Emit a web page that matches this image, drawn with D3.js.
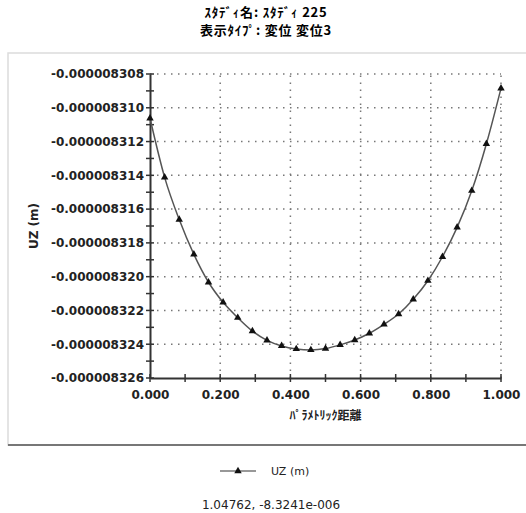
<!DOCTYPE html>
<html>
<head>
<meta charset="utf-8">
<script src="https://cdn.jsdelivr.net/npm/d3@7"></script>
<style>
  body { margin: 0; background: #fff; }
  svg { display: block; }
</style>
</head>
<body>
<svg id="chart" width="526" height="513"></svg>
<script>
var titleLines = ["ｽﾀﾃﾞｨ名: ｽﾀﾃﾞｨ 225", "表示ﾀｲﾌﾟ: 変位 変位3"];
var xLabel = "ﾊﾟﾗﾒﾄﾘｯｸ距離";
var yLabel = "UZ (m)";
var seriesName = "UZ (m)";
var readout = "1.04762, -8.3241e-006";

// parametric distance of each node
var distance = [0, 0.0417, 0.0833, 0.125, 0.1667, 0.2083, 0.25, 0.2917, 0.3333,
  0.375, 0.4167, 0.4583, 0.5, 0.5417, 0.5833, 0.625, 0.6667, 0.7083, 0.75,
  0.7917, 0.8333, 0.875, 0.9167, 0.9583, 1.0];
// UZ displacement (m)
var uz = [-8.31062e-6, -8.31412e-6, -8.31662e-6, -8.31868e-6, -8.32033e-6,
  -8.32152e-6, -8.32243e-6, -8.32322e-6, -8.32377e-6, -8.32410e-6,
  -8.32428e-6, -8.32434e-6, -8.32426e-6, -8.32404e-6, -8.32375e-6,
  -8.32335e-6, -8.32282e-6, -8.32221e-6, -8.32134e-6, -8.32024e-6,
  -8.31882e-6, -8.31708e-6, -8.31491e-6, -8.31214e-6, -8.30885e-6];

var xTicks = [0, 0.2, 0.4, 0.6, 0.8, 1.0];
var xMinor = [0.1, 0.3, 0.5, 0.7, 0.9];
var yTicks = [-8.308e-6, -8.310e-6, -8.312e-6, -8.314e-6, -8.316e-6,
  -8.318e-6, -8.320e-6, -8.322e-6, -8.324e-6, -8.326e-6];
var yMinor = [-8.309e-6, -8.311e-6, -8.313e-6, -8.315e-6, -8.317e-6,
  -8.319e-6, -8.321e-6, -8.323e-6, -8.325e-6];

var svg = d3.select("#chart");
var font = "'DejaVu Sans', sans-serif";

var x = d3.scaleLinear().domain([0, 1]).range([150, 501]);
var y = d3.scaleLinear().domain([-8.326e-6, -8.308e-6]).range([378, 74]);

// title
svg.selectAll(".title")
  .data(titleLines)
  .enter().append("text")
  .attr("x", 266)
  .attr("y", function (d, i) { return 17 + i * 18; })
  .attr("text-anchor", "middle")
  .style("font-family", "'Noto Sans CJK JP', sans-serif")
  .style("font-weight", "bold")
  .style("font-size", "13px")
  .style("letter-spacing", "0.8px")
  .text(function (d) { return d; });

// panel frame
svg.append("rect")
  .attr("x", 8).attr("y", 53)
  .attr("width", 530).attr("height", 392)
  .attr("fill", "none")
  .attr("stroke", "#dcdcdc")
  .attr("stroke-width", 1.5);
svg.append("line")
  .attr("x1", 8).attr("x2", 526)
  .attr("y1", 445).attr("y2", 445)
  .attr("stroke", "#777")
  .attr("stroke-width", 2);

// grid
var grid = svg.append("g")
  .attr("stroke", "#777")
  .attr("stroke-width", 1.5)
  .attr("stroke-dasharray", "1.5,5.5");
grid.selectAll(".hg")
  .data(yTicks.slice(0, -1))
  .enter().append("line")
  .attr("x1", x(0)).attr("x2", x(1))
  .attr("y1", function (d) { return y(d); })
  .attr("y2", function (d) { return y(d); });
grid.selectAll(".vg")
  .data(xTicks.slice(1))
  .enter().append("line")
  .attr("y1", y(-8.326e-6)).attr("y2", y(-8.308e-6))
  .attr("x1", function (d) { return x(d); })
  .attr("x2", function (d) { return x(d); });

// axes
var yAxis = d3.axisLeft(y)
  .tickValues(yTicks)
  .tickSize(0)
  .tickPadding(6)
  .tickFormat(function (d) { return "-" + Math.abs(d).toFixed(9); });
var yg = svg.append("g").attr("transform", "translate(150,0)").call(yAxis);

var xAxis = d3.axisBottom(x)
  .tickValues(xTicks)
  .tickSize(0)
  .tickPadding(12)
  .tickFormat(d3.format(".3f"));
var xg = svg.append("g").attr("transform", "translate(0,378)").call(xAxis);

[yg, xg].forEach(function (g) {
  g.select(".domain").attr("stroke", "#333").attr("stroke-width", 2);
  g.selectAll("text")
    .style("font-family", font)
    .style("font-size", "12px")
    .style("font-weight", "bold")
    .attr("fill", "#222");
});

// crossing tick marks
var ticks = svg.append("g").attr("stroke", "#333").attr("stroke-width", 1.5);
ticks.selectAll(".yt")
  .data(yTicks.concat(yMinor))
  .enter().append("line")
  .attr("x1", 146).attr("x2", 154)
  .attr("y1", function (d) { return y(d); })
  .attr("y2", function (d) { return y(d); });
ticks.selectAll(".xt")
  .data(xTicks.concat(xMinor))
  .enter().append("line")
  .attr("y1", 374).attr("y2", 382)
  .attr("x1", function (d) { return x(d); })
  .attr("x2", function (d) { return x(d); });

// axis titles
svg.append("text")
  .attr("x", x(0.5)).attr("y", 420)
  .attr("text-anchor", "middle")
  .style("font-family", "'Noto Sans CJK JP', sans-serif")
  .style("font-size", "12px")
  .style("font-weight", "bold")
  .attr("fill", "#222")
  .text(xLabel);
svg.append("text")
  .attr("transform", "translate(38," + y(-8.317e-6) + ") rotate(-90)")
  .attr("text-anchor", "middle")
  .style("font-family", font)
  .style("font-size", "12px")
  .style("font-weight", "bold")
  .attr("fill", "#222")
  .text(yLabel);

// series
var points = distance.map(function (d, i) { return [d, uz[i]]; });
var line = d3.line()
  .x(function (d) { return x(d[0]); })
  .y(function (d) { return y(d[1]); })
  .curve(d3.curveMonotoneX);
svg.append("path")
  .datum(points)
  .attr("d", line)
  .attr("fill", "none")
  .attr("stroke", "#555")
  .attr("stroke-width", 1.5);

var tri = d3.symbol().type(d3.symbolTriangle).size(24);
svg.selectAll(".pt")
  .data(points)
  .enter().append("path")
  .attr("d", tri)
  .attr("transform", function (d) { return "translate(" + x(d[0]) + "," + y(d[1]) + ")"; })
  .attr("fill", "#111");

// legend
var lg = svg.append("g").attr("transform", "translate(0,471)");
lg.append("line")
  .attr("x1", 220).attr("x2", 256)
  .attr("stroke", "#333").attr("stroke-width", 1.2);
lg.append("path")
  .attr("d", tri)
  .attr("transform", "translate(238,0)")
  .attr("fill", "#111");
lg.append("text")
  .attr("x", 271).attr("dy", "0.35em")
  .style("font-family", font)
  .style("font-size", "11px")
  .attr("fill", "#222")
  .text(seriesName);

svg.append("text")
  .attr("x", 271).attr("y", 509)
  .attr("text-anchor", "middle")
  .style("font-family", font)
  .style("font-size", "12px")
  .attr("fill", "#222")
  .text(readout);
</script>
</body>
</html>
